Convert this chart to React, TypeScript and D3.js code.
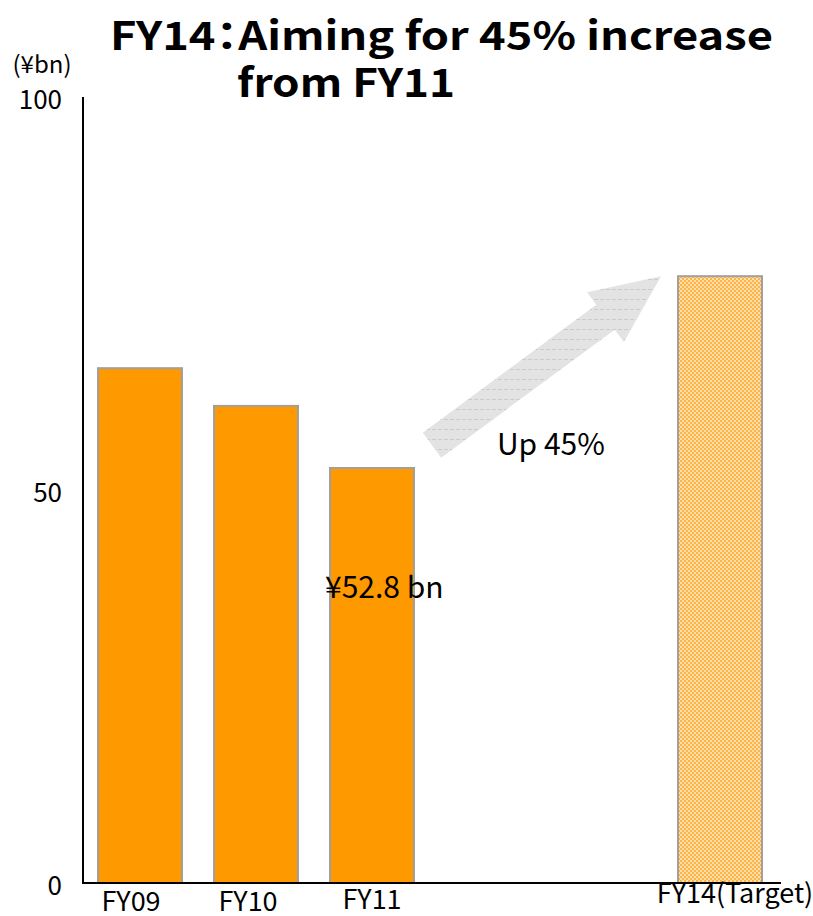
import React from "react";
import * as d3 from "d3";

// ---- data ----
const slots = ["FY09", "FY10", "FY11", "FY12", "FY13", "FY14"];
const barCategories = ["FY09", "FY10", "FY11", "FY14"];
const barValues = [65.5, 60.7, 52.8, 77.2];
const barLabels = ["FY09", "FY10", "FY11", "FY14(Target)"];
const barIsTarget = [false, false, false, true];
const labelShiftX = [-9, -8, 0, 15];
const labelBaseline = [911, 911, 909, 903];
const yTicks = [0, 50, 100];
const unitLabel = "(¥bn)";
const titleLines = ["FY14：Aiming for 45% increase", "from FY11"];
const arrowFromValue = 55.7;
const arrowToValue = 77.2;
const upLabel = "Up 45%";
const fy11Label = "¥52.8 bn";
const fy11LabelValue = 36.2;
const upLabelValue = 54.4;

const W = 813;
const H = 916;
const FONT = "'Noto Sans CJK JP', 'Noto Sans', sans-serif";

export default function App() {
  const x = d3.scaleBand<string>().domain(slots).range([82, 778]).paddingInner(0.276).paddingOuter(0.138);
  const y = d3.scaleLinear().domain([0, 100]).range([883, 97]);
  const bw = x.bandwidth();

  // arrow geometry (from FY11 towards FY14 target)
  const tail: [number, number] = [(x("FY11") as number) + bw + 18, y(arrowFromValue)];
  const tip: [number, number] = [(x("FY14") as number) - 17, y(arrowToValue)];
  const dx = tip[0] - tail[0];
  const dy = tip[1] - tail[1];
  const len = Math.hypot(dx, dy);
  const ux = dx / len, uy = dy / len;
  const px = -uy, py = ux; // perpendicular
  const shaftHalf = 15.5, headHalf = 31, headLen = 69;
  const base: [number, number] = [tip[0] - ux * headLen, tip[1] - uy * headLen];
  const pts: [number, number][] = [
    [tail[0] - px * shaftHalf, tail[1] - py * shaftHalf],
    [base[0] - px * shaftHalf, base[1] - py * shaftHalf],
    [base[0] - px * headHalf, base[1] - py * headHalf],
    tip,
    [base[0] + px * headHalf, base[1] + py * headHalf],
    [base[0] + px * shaftHalf, base[1] + py * shaftHalf],
    [tail[0] + px * shaftHalf, tail[1] + py * shaftHalf],
  ];
  const arrowPath = d3.line()(pts) + "Z";

  return (
    <svg width={W} height={H} style={{ position: "absolute", left: 0, top: 0, background: "#fff" }} fontFamily={FONT}>
      <defs>
        <pattern id="check" width="4" height="4" patternUnits="userSpaceOnUse">
          <rect width="4" height="4" fill="#ffe0aa" />
          <rect width="2" height="2" fill="#ffb245" />
          <rect x="2" y="2" width="2" height="2" fill="#ffb245" />
        </pattern>
        <pattern id="hatch" width="6" height="10" patternUnits="userSpaceOnUse">
          <rect width="6" height="10" fill="#e3e3e3" />
          <rect y="9" width="4" height="1" fill="#cbcbcb" />
        </pattern>
      </defs>

      {/* title */}
      <g style={{ fontFeatureSettings: '"palt"' }}>
        <text x={110} y={50} fontSize={39} fontWeight="bold" fill="#000" textLength={663} lengthAdjust="spacingAndGlyphs">
          {titleLines[0]}
        </text>
        <text x={237} y={97} fontSize={39} fontWeight="bold" fill="#000" textLength={218} lengthAdjust="spacingAndGlyphs">
          {titleLines[1]}
        </text>
      </g>

      {/* unit */}
      <text x={42} y={62} fontSize={24} textAnchor="middle" dominantBaseline="central" fill="#000">
        {unitLabel}
      </text>

      {/* y tick labels */}
      {yTicks.map((t) => (
        <text key={t} x={62} y={y(t)} fontSize={26} textAnchor="end" dominantBaseline="central" fill="#000">
          {t}
        </text>
      ))}

      {/* bars */}
      {barCategories.map((c, i) => (
        <rect
          key={c}
          x={x(c)}
          y={y(barValues[i])}
          width={bw}
          height={y(0) - y(barValues[i])}
          fill={barIsTarget[i] ? "url(#check)" : "#ff9900"}
          stroke="#a0a0a0"
          strokeWidth={2}
        />
      ))}

      {/* axes */}
      <line x1={83} x2={83} y1={y(100)} y2={y(0)} stroke="#000" strokeWidth={2} />
      <line x1={82} x2={781} y1={y(0)} y2={y(0)} stroke="#000" strokeWidth={2} />

      {/* x labels */}
      {barCategories.map((c, i) => (
        <text
          key={"l" + c}
          x={(x(c) as number) + bw / 2 + labelShiftX[i]}
          y={labelBaseline[i]}
          fontSize={27}
          textAnchor="middle"
          fill="#000"
        >
          {barLabels[i]}
        </text>
      ))}

      {/* arrow */}
      <path d={arrowPath} fill="url(#hatch)" />

      {/* annotations */}
      <text x={tail[0] + 65} y={y(upLabelValue)} fontSize={30} fill="#000">
        {upLabel}
      </text>
      <text x={(x("FY11") as number) - 5} y={y(fy11LabelValue)} fontSize={30} fill="#000">
        {fy11Label}
      </text>
    </svg>
  );
}
